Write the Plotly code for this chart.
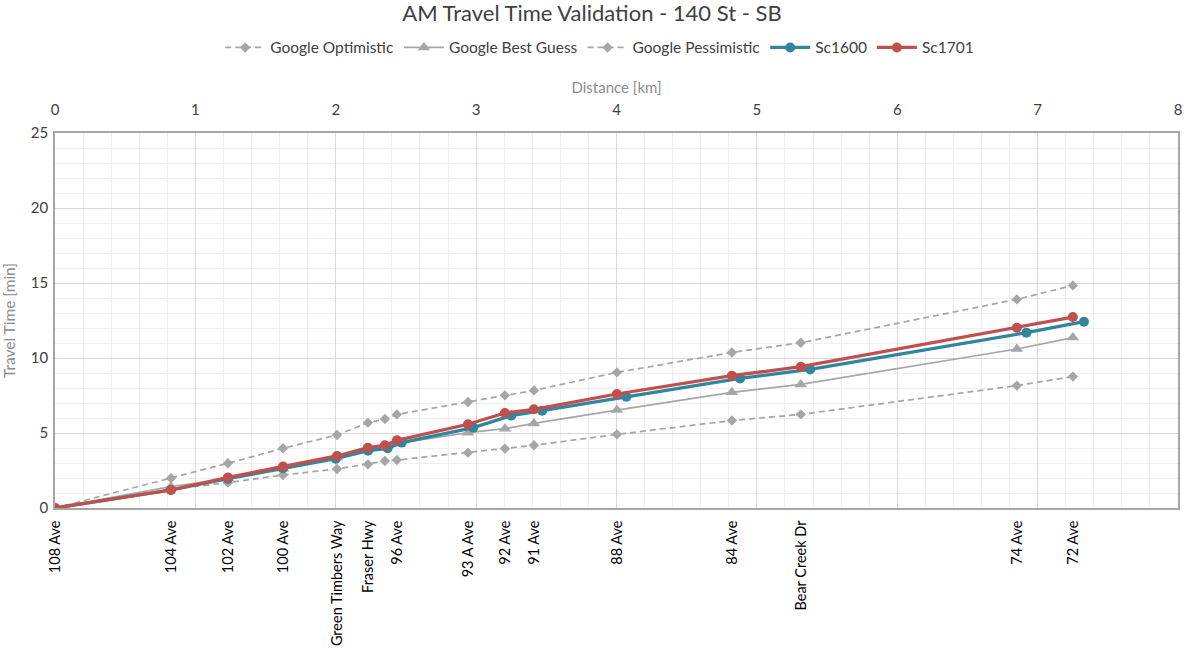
import plotly.graph_objects as go

stations = ["108 Ave", "104 Ave", "102 Ave", "100 Ave", "Green Timbers Way", "Fraser Hwy", "",
            "96 Ave", "93 A Ave", "92 Ave", "91 Ave", "88 Ave", "84 Ave", "Bear Creek Dr", "74 Ave", "72 Ave"]
dist_google = [0, 0.826, 1.232, 1.624, 2.009, 2.229, 2.35, 2.436, 2.942, 3.205, 3.412, 4.003, 4.822, 5.313, 6.852, 7.251]
dist_sc1600 = [0, 0.826, 1.232, 1.624, 2.0, 2.23, 2.37, 2.47, 2.98, 3.25, 3.47, 4.07, 4.88, 5.38, 6.92, 7.33]

google_opt = [0, 1.98, 2.98, 3.98, 4.87, 5.69, 5.93, 6.24, 7.07, 7.51, 7.84, 9.04, 10.37, 11.02, 13.91, 14.84]
google_best = [0, 1.42, 1.95, 2.62, 3.35, 3.9, 4.1, 4.3, 5.02, 5.29, 5.64, 6.53, 7.71, 8.24, 10.6, 11.36]
google_pes = [0, 1.25, 1.69, 2.2, 2.6, 2.91, 3.13, 3.2, 3.69, 3.96, 4.18, 4.91, 5.83, 6.24, 8.16, 8.76]
sc1600 = [0, 1.2, 1.95, 2.65, 3.29, 3.82, 3.98, 4.36, 5.36, 6.16, 6.49, 7.42, 8.64, 9.24, 11.69, 12.42]
sc1701 = [0, 1.2, 2.04, 2.76, 3.47, 4.02, 4.18, 4.51, 5.58, 6.33, 6.58, 7.6, 8.82, 9.42, 12.02, 12.73]

FONT = "Lato, 'Open Sans', sans-serif"
GREY = "#A6A6A6"
DASH = "6px,4px"

fig = go.Figure()
fig.add_trace(go.Scatter(x=dist_google, y=google_opt, name="Google Optimistic", mode="lines+markers",
                         line=dict(color=GREY, width=1.75, dash=DASH),
                         marker=dict(symbol="diamond", size=8, color=GREY)))
fig.add_trace(go.Scatter(x=dist_google, y=google_best, name="Google Best Guess", mode="lines+markers",
                         line=dict(color=GREY, width=1.75),
                         marker=dict(symbol="triangle-up", size=11, color=GREY)))
fig.add_trace(go.Scatter(x=dist_google, y=google_pes, name="Google Pessimistic", mode="lines+markers",
                         line=dict(color=GREY, width=1.75, dash=DASH),
                         marker=dict(symbol="diamond", size=8, color=GREY)))
fig.add_trace(go.Scatter(x=dist_sc1600, y=sc1600, name="Sc1600", mode="lines+markers",
                         line=dict(color="#31859C", width=3.25),
                         marker=dict(symbol="circle", size=10, color="#31859C")))
fig.add_trace(go.Scatter(x=dist_google, y=sc1701, name="Sc1701", mode="lines+markers",
                         line=dict(color="#C0504D", width=3.25),
                         marker=dict(symbol="circle", size=10, color="#C0504D")))
# invisible trace to anchor top distance axis
fig.add_trace(go.Scatter(x=[0, 8], y=[0, 0], xaxis="x2", mode="markers", marker=dict(opacity=0),
                         showlegend=False, hoverinfo="skip"))

fig.update_layout(
    width=1184, height=657,
    margin=dict(l=55, r=6, t=133, b=149),
    paper_bgcolor="white", plot_bgcolor="white",
    font=dict(family=FONT, size=15, color="#404040"),
    title=dict(text="AM Travel Time Validation - 140 St - SB", x=0.5, xanchor="center", xref="container",
               y=1 - 13 / 657, yanchor="middle", yref="container", font=dict(size=22, color="#404040")),
    legend=dict(orientation="h", x=0.485, xanchor="center", y=1.227, yanchor="middle",
                font=dict(size=15.5, color="#404040"), itemwidth=40),
    xaxis=dict(range=[0, 8], tickmode="array", tickvals=dist_google, ticktext=stations,
               tickangle=-90, showgrid=False, zeroline=False, showline=True, automargin=False,
               linecolor="#A6A6A6", linewidth=1.5, ticks="", ticklabelstandoff=5,
               tickfont=dict(size=14.5, color="#000000")),
    xaxis2=dict(range=[0, 8], overlaying="x", side="top", dtick=1, tick0=0, automargin=False,
                showgrid=True, gridcolor="#D9D9D9", gridwidth=1,
                minor=dict(dtick=0.2, showgrid=True, gridcolor="#EFEFEF", gridwidth=1),
                zeroline=False, showline=True, linecolor="#A6A6A6", linewidth=1.5, ticks="",
                ticklabelstandoff=10,
                tickfont=dict(size=15, color="#404040"),
                title=dict(text="Distance [km]", font=dict(size=15, color="#8C8C8C"), standoff=3)),
    yaxis=dict(range=[0, 25], dtick=5, showgrid=True, gridcolor="#D9D9D9", gridwidth=1, automargin=False,
               minor=dict(dtick=1, showgrid=True, gridcolor="#EFEFEF", gridwidth=1),
               zeroline=False, showline=True, mirror=True, linecolor="#A6A6A6", linewidth=1.5,
               ticks="", ticklabelstandoff=2, tickfont=dict(size=15, color="#404040"),
               title=dict(text="Travel Time [min]", font=dict(size=15.5, color="#8C8C8C"), standoff=14)),
)

fig.write_html("out.html", config={"displayModeBar": False},
               post_script="document.body.style.margin='0px';document.body.style.padding='0px';")
